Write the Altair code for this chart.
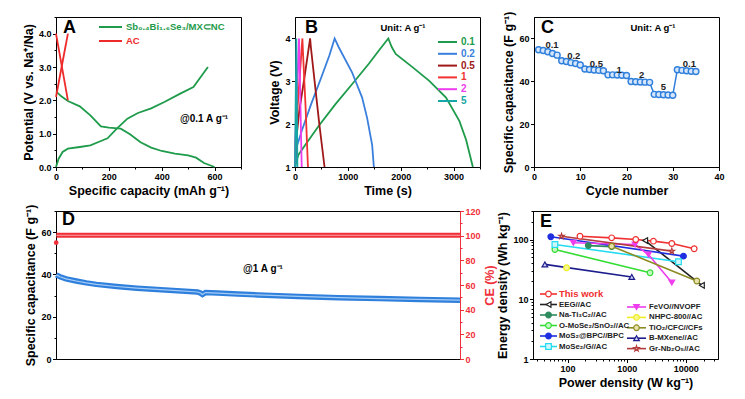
import json
import altair as alt
import pandas as pd

FONT = "Liberation Sans, Arial, Helvetica, sans-serif"

# ---------------- Panel A : GCD of anode / cathode ----------------
a_series = ["Sb₀.₄Bi₁.₆Se₃/MX⊂NC", "AC"]
a_colors = ["#1e9b4b", "#ee2a2a"]
a_dis_cap = [0, 20, 45, 90, 130, 170, 200, 245, 280, 320, 360, 400, 450, 500, 530, 560, 590, 600]
a_dis_pot = [2.27, 2.12, 1.98, 1.82, 1.55, 1.22, 1.18, 1.15, 0.98, 0.74, 0.58, 0.48, 0.40, 0.35, 0.28, 0.12, 0.03, 0.0]
a_chg_cap = [0, 10, 25, 45, 90, 130, 170, 195, 230, 270, 310, 360, 410, 470, 520, 555, 575]
a_chg_pot = [0.0, 0.25, 0.45, 0.55, 0.60, 0.65, 0.78, 0.86, 1.15, 1.45, 1.62, 1.76, 1.95, 2.20, 2.40, 2.78, 3.0]
ac_chg_cap = [0, 45]
ac_chg_pot = [2.1, 4.0]
ac_dis_cap = [0, 45]
ac_dis_pot = [4.0, 2.0]

# ---------------- Panel B : GCD of the device ----------------
b_rates = ["0.1", "0.2", "0.5", "1", "2", "5"]
b_colors = ["#1e9b4b", "#3a7fdc", "#a01818", "#f03232", "#ee3cee", "#17a6a6"]
b_t_01 = [0, 63, 190, 444, 762, 1079, 1397, 1587, 1765, 1830, 1905, 2222, 2540, 2857, 3111, 3238, 3365]
b_v_01 = [1.0, 1.28, 1.51, 1.95, 2.46, 2.93, 3.41, 3.72, 4.0, 3.8, 3.64, 3.33, 3.01, 2.62, 2.07, 1.63, 1.0]
b_t_02 = [0, 40, 130, 300, 500, 650, 750, 825, 1079, 1270, 1365, 1460, 1492]
b_v_02 = [1.0, 1.5, 1.85, 2.45, 3.1, 3.6, 4.0, 3.8, 3.21, 2.62, 2.14, 1.51, 1.0]
b_t_05 = [0, 20, 80, 180, 286, 300, 380, 460, 559]
b_v_05 = [1.0, 1.6, 2.3, 3.1, 4.0, 3.8, 2.9, 2.0, 1.0]
b_t_1 = [0, 10, 60, 140, 150, 200, 245]
b_v_1 = [1.0, 1.6, 2.6, 4.0, 3.7, 2.4, 1.0]
b_t_2 = [0, 5, 76, 82, 127]
b_v_2 = [1.0, 1.6, 4.0, 3.7, 1.0]
b_t_5 = [0, 25, 45]
b_v_5 = [1.0, 4.0, 1.0]

# ---------------- Panel C : rate capability ----------------
c_cycle = list(range(1, 36))
c_cap = [54.7, 54.4, 53.8, 53.0, 52.2, 49.6, 49.2, 48.7, 48.3, 47.6,
         45.7, 45.5, 45.3, 45.1, 44.9, 43.0, 43.0, 42.9, 42.8, 42.7,
         39.9, 39.8, 39.7, 39.6, 39.5, 33.9, 33.8, 33.7, 33.6, 33.5,
         45.4, 45.1, 44.9, 44.7, 44.6]
c_lbl_txt = ["0.1", "0.2", "0.5", "1", "2", "5", "0.1"]
c_lbl_x = [3.9, 8.6, 13.5, 18.4, 23.3, 28.0, 33.6]
c_lbl_y = [56.9, 51.7, 47.9, 45.4, 43.1, 37.3, 48.2]

# ---------------- Panel D : long cycling ----------------
d_cycle = [1, 20, 50, 100, 150, 200, 300, 400, 500, 600, 700, 715, 725, 740, 800, 900, 1000, 1200, 1400, 1600, 1800, 2000]
d_cap = [39.8, 38.9, 37.9, 36.9, 36.0, 35.3, 34.3, 33.5, 32.9, 32.3, 31.7, 31.2, 30.5, 31.4, 31.2, 30.7, 30.3, 29.6, 29.0, 28.6, 28.2, 27.8]
d_ce_cycle = [2, 500, 1000, 1500, 2000]
d_ce = [100.3, 100.3, 100.3, 100.3, 100.3]
d_ce_first_cycle = [1]
d_ce_first = [94.3]

# ---------------- Panel E : Ragone plot ----------------
e_names = ["EEG//AC", "Na-Ti₃C₂//AC", "O-MoSe₂/SnO₂//AC", "MoS₂@BPC//BPC", "MoSe₂/G//AC",
           "FeVO//NVOPF", "NHPC-800//AC", "TiO₂/CFC//CFs", "B-MXene//AC", "Gr-Nb₂O₅//AC", "This work"]
e_colors = ["#222222", "#2d8b5e", "#33dd33", "#1f2fe0", "#22dcf0",
            "#ee3cee", "#eeee22", "#8c8a22", "#1c1c8c", "#b43c3c", "#f03030"]
e_fills = ["#ffffff", "#2d8b5e", "#c4f7c4", "#1f2fe0", "#d0f8fc",
           "#ee3cee", "#f8f890", "#e6e2aa", "#d0d0f2", "#f2d0d0", "#ffffff"]
STAR = "M0,-1L0.22,-0.31L0.95,-0.31L0.36,0.12L0.59,0.81L0,0.38L-0.59,0.81L-0.36,0.12L-0.95,-0.31L-0.22,-0.31Z"
e_shapes = ["triangle-left", "circle", "circle", "circle", "square",
            "triangle-down", "circle", "circle", "triangle-up", STAR, "circle"]
e_P = {
    "This work": [162, 557, 1422, 2831, 5794, 13840],
    "EEG//AC": [2048, 18660],
    "Na-Ti₃C₂//AC": [224, 557],
    "O-MoSe₂/SnO₂//AC": [61, 2483],
    "MoS₂@BPC//BPC": [52, 9120],
    "MoSe₂/G//AC": [61, 7520],
    "FeVO//NVOPF": [125, 1383, 2328, 5794],
    "NHPC-800//AC": [96],
    "TiO₂/CFC//CFs": [557, 15350],
    "B-MXene//AC": [41.3, 1217],
    "Gr-Nb₂O₅//AC": [79, 5794],
}
e_E = {
    "This work": [113.6, 106.6, 100, 93.8, 85.8, 69.9],
    "EEG//AC": [96, 17.1],
    "Na-Ti₃C₂//AC": [79, 76],
    "O-MoSe₂/SnO₂//AC": [68, 27.8],
    "MoS₂@BPC//BPC": [111, 52.7],
    "MoSe₂/G//AC": [82.5, 42.5],
    "FeVO//NVOPF": [88, 82.5, 56, 19],
    "NHPC-800//AC": [33.7],
    "TiO₂/CFC//CFs": [77.4, 20.2],
    "B-MXene//AC": [38.3, 23.6],
    "Gr-Nb₂O₅//AC": [113.6, 63.9],
}
e_leg_left = ["This work", "EEG//AC", "Na-Ti₃C₂//AC", "O-MoSe₂/SnO₂//AC", "MoS₂@BPC//BPC", "MoSe₂/G//AC"]
e_leg_right = ["FeVO//NVOPF", "NHPC-800//AC", "TiO₂/CFC//CFs", "B-MXene//AC", "Gr-Nb₂O₅//AC"]


# ---------------- helpers ----------------
def frame(xs, ys, **const):
    d = pd.DataFrame({"x": xs, "y": ys})
    d["i"] = range(len(d))
    for k, v in const.items():
        d[k] = v
    return d


def tick_axis(title, majors, minors, **kw):
    arr = json.dumps(majors)
    test = f"indexof({arr}, datum.value) >= 0"
    return alt.Axis(title=title, values=sorted(majors + minors),
                    labelExpr=f"{test} ? datum.label : ''",
                    tickSize={"condition": {"test": test, "value": 3.5}, "value": 2},
                    **kw)


def letter(ch, x, y):
    return alt.Chart(pd.DataFrame({"t": [ch]})).mark_text(
        font=FONT, fontSize=18, fontWeight="bold", align="left", baseline="top", color="black"
    ).encode(text="t:N", x=alt.value(x), y=alt.value(y))


def note(txt, x, y, size=9.5, color="black"):
    return alt.Chart(pd.DataFrame({"t": [txt]})).mark_text(
        font=FONT, fontSize=size, fontWeight="bold", align="center", baseline="middle", color=color
    ).encode(text="t:N", x=alt.value(x), y=alt.value(y))


def line_legend(df, color_enc, size, stroke=2):
    rule = alt.Chart(df).mark_rule(strokeWidth=stroke).encode(
        x=alt.X("lx1:Q", scale=None, axis=None), x2="lx2:Q",
        y=alt.Y("ly:Q", scale=None, axis=None), color=color_enc)
    text = alt.Chart(df).mark_text(align="left", baseline="middle", font=FONT,
                                   fontSize=size, fontWeight="bold").encode(
        x=alt.X("tx:Q", scale=None, axis=None), y=alt.Y("ly:Q", scale=None, axis=None),
        text="s:N", color=color_enc)
    return rule, text


# ---------------- Panel A ----------------
dfA = pd.concat([
    frame(a_dis_cap, a_dis_pot, s=a_series[0], seg="dis"),
    frame(a_chg_cap, a_chg_pot, s=a_series[0], seg="chg"),
    frame(ac_chg_cap, ac_chg_pot, s=a_series[1], seg="achg"),
    frame(ac_dis_cap, ac_dis_pot, s=a_series[1], seg="adis"),
], ignore_index=True)
colA = alt.Color("s:N", scale=alt.Scale(domain=a_series, range=a_colors), legend=None)
lineA = alt.Chart(dfA).mark_line(strokeWidth=1.8).encode(
    x=alt.X("x:Q", scale=alt.Scale(domain=[0, 700], nice=False),
            axis=tick_axis("Specific capacity (mAh g⁻¹)", [0, 200, 400, 600], [100, 300, 500, 700], format="d")),
    y=alt.Y("y:Q", scale=alt.Scale(domain=[0, 4.5], nice=False),
            axis=tick_axis("Potential (V vs. Na⁺/Na)", [0, 1, 2, 3, 4], [0.5, 1.5, 2.5, 3.5, 4.5], minExtent=15)),
    color=colA, detail="seg:N", order="i:Q")
legA = pd.DataFrame({"s": a_series})
legA["ly"] = [10 + 14 * k for k in range(len(legA))]
legA["lx1"], legA["lx2"], legA["tx"] = 43, 66, 70
ruleA, textA = line_legend(legA, colA, 9.5)
panelA = alt.layer(lineA, ruleA, textA, letter("A", 7, 2),
                   note("@0.1 A g⁻¹", 148, 102, 10)).properties(width=185, height=150)

# ---------------- Panel B ----------------
b_t = [b_t_01, b_t_02, b_t_05, b_t_1, b_t_2, b_t_5]
b_v = [b_v_01, b_v_02, b_v_05, b_v_1, b_v_2, b_v_5]
dfB = pd.concat([frame(t, v, s=r) for t, v, r in zip(b_t, b_v, b_rates)], ignore_index=True)
colB = alt.Color("s:N", scale=alt.Scale(domain=b_rates, range=b_colors), legend=None)
lineB = alt.Chart(dfB).mark_line(strokeWidth=1.8).encode(
    x=alt.X("x:Q", scale=alt.Scale(domain=[0, 3500], nice=False),
            axis=tick_axis("Time (s)", [0, 1000, 2000, 3000], [500, 1500, 2500, 3500], format="d")),
    y=alt.Y("y:Q", scale=alt.Scale(domain=[1, 4.5], nice=False),
            axis=tick_axis("Voltage (V)", [1, 2, 3, 4], [1.5, 2.5, 3.5, 4.5], format="d")),
    color=colB, detail="s:N", order="i:Q")
legB = pd.DataFrame({"s": b_rates})
legB["ly"] = [25 + 11.8 * k for k in range(len(legB))]
legB["lx1"], legB["lx2"], legB["tx"] = 143, 162, 166
ruleB, textB = line_legend(legB, colB, 10)
panelB = alt.layer(lineB, ruleB, textB, letter("B", 10, 2),
                   note("Unit: A g⁻¹", 108, 11)).properties(width=185, height=150)

# ---------------- Panel C ----------------
BLUE = "#2f7fdc"
dfC = pd.DataFrame({"x": c_cycle, "y": c_cap})
xC = alt.X("x:Q", scale=alt.Scale(domain=[0, 40], nice=False),
           axis=tick_axis("Cycle number", [0, 10, 20, 30, 40], [5, 15, 25, 35]))
yC = alt.Y("y:Q", scale=alt.Scale(domain=[0, 70], nice=False),
           axis=tick_axis("Specific capacitance (F g⁻¹)", [0, 20, 40, 60], [10, 30, 50, 70]))
lineC = alt.Chart(dfC).mark_line(color=BLUE, strokeWidth=1.5).encode(x=xC, y=yC)
ptC = alt.Chart(dfC).mark_point(filled=True, fill="#d6e7fb", stroke=BLUE, strokeWidth=1.4,
                                size=36, opacity=1).encode(x=xC, y=yC)
dfCl = pd.DataFrame({"t": c_lbl_txt, "x": c_lbl_x, "y": c_lbl_y})
lblC = alt.Chart(dfCl).mark_text(font=FONT, fontSize=9.5, fontWeight="bold", color="#222222").encode(
    x=alt.X("x:Q"), y=alt.Y("y:Q"), text="t:N")
panelC = alt.layer(lineC, ptC, lblC, letter("C", 7, 2),
                   note("Unit: A g⁻¹", 119, 11)).properties(width=185, height=150)

# ---------------- Panel D ----------------
RED = "#f0303a"
dfD = pd.DataFrame({"x": d_cycle, "y": d_cap})
xD = alt.X("x:Q", scale=alt.Scale(domain=[0, 2000], nice=False),
           axis=tick_axis("Cycle number", [0, 500, 1000, 1500, 2000], [250, 750, 1250, 1750], format="d"))
xDn = alt.X("x:Q", scale=alt.Scale(domain=[0, 2000], nice=False), axis=None)
yD = alt.Y("y:Q", scale=alt.Scale(domain=[0, 70], nice=False),
           axis=tick_axis("Specific capacitance (F g⁻¹)", [0, 20, 40, 60], [10, 30, 50, 70], minExtent=15))
capThick = alt.Chart(dfD).mark_line(color=BLUE, strokeWidth=5.5).encode(x=xD, y=yD)
capThin = alt.Chart(dfD).mark_line(color="#a6cdf5", strokeWidth=1.2).encode(x=xD, y=yD)
leftD = alt.layer(capThick, capThin, note("@1 A g⁻¹", 207, 58, 10), letter("D", 6, 0))
yCE = alt.Y("y:Q", scale=alt.Scale(domain=[0, 120], nice=False),
            axis=tick_axis("CE (%)", [0, 20, 40, 60, 80, 100, 120], [10, 30, 50, 70, 90, 110],
                           orient="right", labelColor=RED, titleColor=RED, domainColor=RED,
                           tickColor=RED, titleAngle=270, titleBaseline="top"))
dfCE = pd.DataFrame({"x": d_ce_cycle, "y": d_ce})
dfCE1 = pd.DataFrame({"x": d_ce_first_cycle, "y": d_ce_first})
ceThick = alt.Chart(dfCE).mark_line(color=RED, strokeWidth=5).encode(x=xDn, y=yCE)
ceThin = alt.Chart(dfCE).mark_line(color="#f7a3a3", strokeWidth=1.0).encode(x=xDn, y=yCE)
ceFirst = alt.Chart(dfCE1).mark_point(filled=True, color=RED, size=22, opacity=1).encode(x=xDn, y=yCE)
rightD = alt.layer(ceThick, ceThin, ceFirst)
panelD = alt.layer(leftD, rightD).resolve_scale(y="independent").properties(width=404, height=148)

# ---------------- Panel E ----------------
rows = []
for name in e_names:
    for k, (p, e) in enumerate(zip(e_P[name], e_E[name])):
        rows.append({"s": name, "P": p, "E": e, "i": k})
dfE = pd.DataFrame(rows)
colE = alt.Color("s:N", scale=alt.Scale(domain=e_names, range=e_colors), legend=None)
strokeE = alt.Stroke("s:N", scale=alt.Scale(domain=e_names, range=e_colors), legend=None)
fillE = alt.Fill("s:N", scale=alt.Scale(domain=e_names, range=e_fills), legend=None)
shapeE = alt.Shape("s:N", scale=alt.Scale(domain=e_names, range=e_shapes), legend=None)
xE = alt.X("P:Q", scale=alt.Scale(type="log", domain=[26, 35000], nice=False),
           axis=tick_axis("Power density (W kg⁻¹)", [100, 1000, 10000],
                          [30, 40, 50, 60, 70, 80, 90, 200, 300, 400, 500, 600, 700, 800, 900,
                           2000, 3000, 4000, 5000, 6000, 7000, 8000, 9000, 20000, 30000], format="d"))
yE = alt.Y("E:Q", scale=alt.Scale(type="log", domain=[1, 300], nice=False),
           axis=tick_axis("Energy density (Wh kg⁻¹)", [1, 10, 100],
                          [2, 3, 4, 5, 6, 7, 8, 9, 20, 30, 40, 50, 60, 70, 80, 90, 200, 300], format="d"))
lineE = alt.Chart(dfE).mark_line(strokeWidth=1.6).encode(x=xE, y=yE, color=colE, detail="s:N", order="i:Q")
ptE = alt.Chart(dfE).mark_point(filled=True, size=32, strokeWidth=1.2, opacity=1).encode(
    x=xE, y=yE, stroke=strokeE, fill=fillE, shape=shapeE)

legE = pd.DataFrame({"s": e_leg_left + e_leg_right})
nl = len(e_leg_left)
nr = len(e_leg_right)
legE["ly"] = [83 + 10.5 * k for k in range(nl)] + [96 + 10.4 * k for k in range(nr)]
legE["lx1"] = [7] * nl + [94] * nr
legE["lx2"] = [24] * nl + [113] * nr
legE["mx"] = [15.5] * nl + [103.5] * nr
legE["tx"] = [26] * nl + [116] * nr
legE["tc"] = ["#f03030" if s == "This work" else "#222222" for s in legE["s"]]
legE["fs"] = [9.5 if s == "This work" else 7.8 for s in legE["s"]]
legRuleE = alt.Chart(legE).mark_rule(strokeWidth=1.6).encode(
    x=alt.X("lx1:Q", scale=None, axis=None), x2="lx2:Q",
    y=alt.Y("ly:Q", scale=None, axis=None), color=colE)
legPtE = alt.Chart(legE).mark_point(filled=True, size=32, strokeWidth=1.2, opacity=1).encode(
    x=alt.X("mx:Q", scale=None, axis=None), y=alt.Y("ly:Q", scale=None, axis=None),
    stroke=strokeE, fill=fillE, shape=shapeE)
legTextE = alt.Chart(legE).mark_text(align="left", baseline="middle", font=FONT, fontWeight="bold").encode(
    x=alt.X("tx:Q", scale=None, axis=None), y=alt.Y("ly:Q", scale=None, axis=None),
    text="s:N", color=alt.Color("tc:N", scale=None, legend=None), size=alt.Size("fs:Q", scale=None, legend=None))
panelE = alt.layer(lineE, ptE, legRuleE, legPtE, legTextE, letter("E", 7, 1.5)).properties(width=185, height=148)

# ---------------- layout ----------------
IND = dict(color="independent", stroke="independent", fill="independent",
           shape="independent", size="independent")
top = alt.hconcat(panelA, panelB, panelC, spacing=54, bounds="flush").resolve_scale(**IND)
bottom = alt.hconcat(panelD, panelE, spacing=73, bounds="flush").resolve_scale(**IND)
chart = alt.vconcat(top, bottom, spacing=6).resolve_scale(**IND).properties(
    padding={"left": 13, "top": 2, "right": 4, "bottom": 4}
).configure_view(stroke="black", strokeWidth=1).configure_axis(
    labelFont=FONT, labelFontSize=9, labelFontWeight="bold", labelColor="black",
    titleFont=FONT, titleFontSize=12.5, titleFontWeight="bold", titleColor="black",
    domainColor="black", tickColor="black", domainWidth=1, tickWidth=1, grid=False,
    labelPadding=1.5, titlePadding=3, labelFlush=False,
)

chart.save("out.html", embed_options={"renderer": "svg", "actions": False})
